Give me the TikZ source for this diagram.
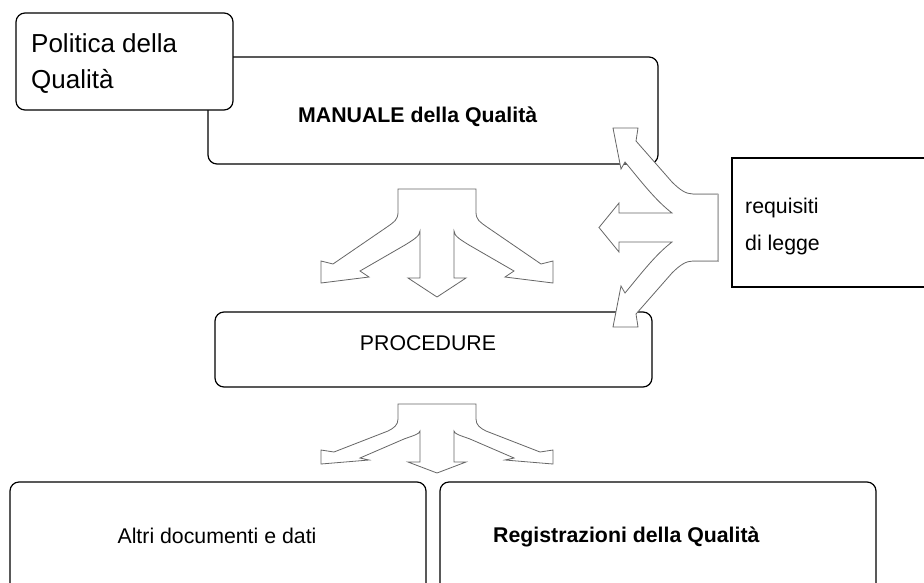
\documentclass[tikz,border=0pt]{standalone}
\usepackage{fontspec}
\setmainfont{Liberation Sans}
\definecolor{arrowgray}{HTML}{666666}
\definecolor{barlight}{HTML}{B0B0B0}
\tikzset{
  box/.style={draw=black, line width=1.2pt, rounded corners=9pt, fill=white, inner sep=0pt},
  plainbox/.style={draw=black, line width=2pt, fill=white, inner sep=0pt},
  blockarrow/.style={draw=arrowgray, line width=0.8pt, fill=white},
  lightseg/.style={draw=barlight, line width=0.9pt},
  txt/.style={inner sep=0pt, font=\fontsize{21.3}{25}\selectfont},
  btxt/.style={inner sep=0pt, font=\fontsize{21.3}{25}\selectfont\bfseries},
  bigtxt/.style={inner sep=0pt, font=\fontsize{26}{30}\selectfont},
}
\begin{document}
\begin{tikzpicture}[x=1pt,y=-1pt]
\useasboundingbox (0,0) rectangle (924,582);
\clip (0,0) rectangle (924,582);
\fill[white] (0,0) rectangle (924,582);
% boxes
\node[box, minimum width=450pt, minimum height=107pt] (man) at (433,110.5) {};
\node[box, minimum width=217pt, minimum height=97pt] (pol) at (124.5,61.5) {};
\node[plainbox, minimum width=208pt, minimum height=129pt] (req) at (836,222.5) {};
\node[box, minimum width=437pt, minimum height=75pt] (proc) at (433.5,349.5) {};
\node[box, minimum width=416pt, minimum height=128pt] (altri) at (218,546) {};
\node[box, minimum width=436pt, minimum height=128pt] (reg) at (658,546) {};
% texts
\node[bigtxt, anchor=base west] (pol1) at (31,52) {Politica della};
\node[bigtxt, anchor=base west] (pol2) at (31,88) {Qualità};
\node[btxt, anchor=base west] (mant) at (298,122) {MANUALE della Qualità};
\node[txt, anchor=base] (proct) at (428,350) {PROCEDURE};
\node[txt, anchor=base west] (req1) at (745,213) {requisiti};
\node[txt, anchor=base west] (req2) at (745,250) {di legge};
\node[txt, anchor=base] (altrit) at (217,543) {Altri documenti e dati};
\node[btxt, anchor=base west] (regt) at (493,542) {Registrazioni della Qualità};
% top three-way arrow
\draw[blockarrow] (398,189) -- (476,189) -- (476,212)
  .. controls (476,220) and (480,222) .. (487,227) -- (541,264)
  -- (553,261) -- (553,283) -- (505,277) -- (514,271)
  -- (469,245) .. controls (461,240) and (454,236) .. (454,231)
  -- (454,278) -- (466,278) -- (437,297) -- (408,278) -- (420,278)
  -- (420,231) .. controls (420,236) and (413,240) .. (405,245)
  -- (360,271) -- (369,277) -- (321,283) -- (321,261) -- (333,264)
  -- (387,227) .. controls (394,222) and (398,220) .. (398,212) -- cycle;
% bottom three-way arrow
\draw[blockarrow] (398,404) -- (476,404) -- (476,419)
  .. controls (476,425) and (480,428) .. (486,431) -- (540,452)
  -- (553,450) -- (553,464) -- (505,460) -- (514,458)
  -- (470,439) .. controls (462,436) and (454,434) .. (454,431)
  -- (454,462) -- (466,462) -- (437,473) -- (408,462) -- (420,462)
  -- (420,431) .. controls (420,434) and (412,436) .. (404,439)
  -- (360,458) -- (369,460) -- (321,464) -- (321,450) -- (334,452)
  -- (388,431) .. controls (394,428) and (398,425) .. (398,419) -- cycle;
% right three-way arrow
\draw[blockarrow] (718,194) -- (718,261) -- (693,261)
  .. controls (686,261) and (680,265) .. (672,273) -- (636,314)
  -- (638,327) -- (613,327) -- (621,286) -- (625,293)
  .. controls (640,275) and (655,255) .. (672,242)
  -- (619,242) -- (619,252) -- (599,227.5) -- (619,203) -- (619,213) -- (672,213)
  .. controls (655,200) and (640,180) .. (625,162)
  -- (621,169) -- (613,128) -- (638,128) -- (636,141)
  -- (672,182) .. controls (680,190) and (686,194) .. (693,194) -- cycle;
\draw[lightseg] (693,194) -- (718,194) -- (718,261) -- (693,261);
\end{tikzpicture}
\end{document}
